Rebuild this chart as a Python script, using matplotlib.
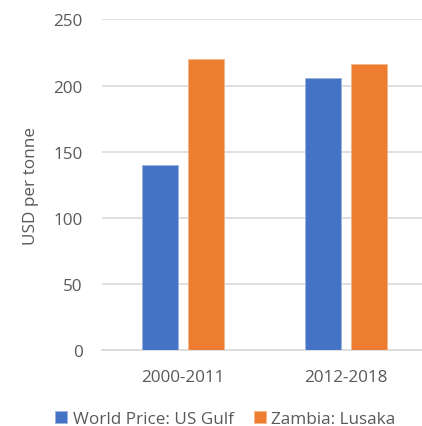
import matplotlib
matplotlib.use("Agg")
import matplotlib.pyplot as plt
import numpy as np

categories = ["2000-2011", "2012-2018"]
series_names = ["World Price: US Gulf", "Zambia: Lusaka"]
world_price = [140, 205.5]
zambia = [220, 216.5]
yticks = [0, 50, 100, 150, 200, 250]
colors = ["#4472C4", "#ED7D31"]

fig = plt.figure(figsize=(4.22, 4.27), dpi=100)
ax = fig.add_axes([0.2417, 0.178, 0.7583, 0.774])

x = np.arange(len(categories))
w = 0.222
off = 0.1415
text_color = "#595959"
font = ["Open Sans", "DejaVu Sans"]
fs = 12.3

b1 = ax.bar(x - off, world_price, w, color=colors[0], edgecolor="#9db3dc", linewidth=0.6, zorder=3, label=series_names[0])
b2 = ax.bar(x + off, zambia, w, color=colors[1], edgecolor="#f6b58a", linewidth=0.6, zorder=3, label=series_names[1])

ax.set_xlim(-0.5, 1.469)
ax.set_ylim(0, 250)
ax.set_yticks(yticks)
ax.set_xticks(x)
ax.set_xticklabels(categories)
ax.yaxis.grid(True, color="#d9d9d9", linewidth=1.2, zorder=0)
ax.set_axisbelow(True)
for s in ["top", "right", "left"]:
    ax.spines[s].set_visible(False)
ax.spines["bottom"].set_color("#d9d9d9")
ax.spines["bottom"].set_linewidth(1.2)
ax.tick_params(axis="both", length=0, colors=text_color, labelsize=fs)
ax.tick_params(axis="y", pad=14)
ax.tick_params(axis="x", pad=14)
for lbl in ax.get_xticklabels() + ax.get_yticklabels():
    lbl.set_fontfamily(font)
ax.set_ylabel("USD per tonne", color=text_color, fontsize=fs, family=font, labelpad=10)

leg = fig.legend(handles=[b1, b2], labels=series_names, loc="center", bbox_to_anchor=(0.534, 0.016),
                 ncol=2, frameon=False, handlelength=0.7, handleheight=0.7, handletextpad=0.3,
                 columnspacing=1.2, prop={"family": font, "size": fs})
for t in leg.get_texts():
    t.set_color(text_color)

fig.savefig("out.png", dpi=100)
